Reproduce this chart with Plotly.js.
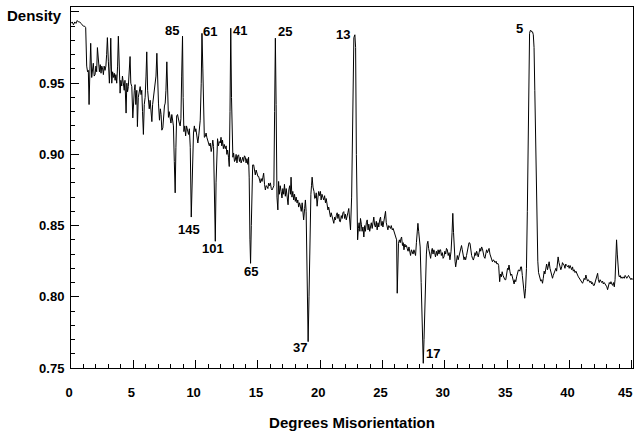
<!DOCTYPE html>
<html>
<head>
<meta charset="utf-8">
<script src="https://cdn.plot.ly/plotly-3.0.1.min.js"></script>
<style>html,body{margin:0;padding:0;background:#fff;}#chart{width:635px;height:436px;}</style>
</head>
<body>
<div id="chart"></div>
<script>
// Degrees misorientation (x) and density (y)
var xDeg = [0,0.1,0.2,0.3,0.4,0.5,0.6,0.7,0.8,0.9,1.0,1.1,1.18,
1.26,1.33,1.39,1.45,1.52,1.58,1.66,1.72,1.79,1.86,1.93,2.0,2.06,2.12,2.2,2.28,2.35,2.41,2.47,2.54,2.6,2.66,2.73,2.8,2.86,2.92,3.0,3.08,3.14,3.19,3.27,3.34,3.4,3.47,3.54,3.6,3.67,3.74,3.8,3.87,3.94,4.0,4.07,4.13,4.2,4.27,4.33,4.42,4.48,4.54,4.6,4.67,4.74,4.8,4.88,4.96,5.02,5.08,5.14,5.2,5.28,5.33,5.4,5.47,5.55,5.62,5.68,5.74,5.81,5.88,5.95,6.02,6.08,6.15,6.22,6.28,6.35,6.42,6.49,6.55,6.62,6.7,6.76,6.82,6.89,6.95,7.02,7.1,7.17,7.23,7.29,7.37,7.43,7.5,7.56,7.62,7.69,7.75,7.82,7.88,7.95,8.02,8.09,8.16,8.22,8.29,8.36,8.42,8.48,8.55,8.62,8.69,8.76,8.82,8.88,8.95,9.0,9.06,9.13,9.2,9.27,9.34,9.43,9.5,9.57,9.65,9.72,9.78,9.83,9.9,9.96,10.02,10.1,10.18,10.25,10.32,10.37,10.45,10.51,10.58,10.64,10.7,10.77,10.84,10.9,10.96,11.04,11.1,11.17,11.25,11.31,11.38,11.44,11.51,11.58,11.64,11.7,11.76,11.83,11.9,11.98,12.04,12.1,12.16,12.23,12.3,12.38,12.45,12.51,12.57,12.64,12.7,12.76,12.82,12.88,12.94,12.99,13.05,13.12,13.18,13.25,13.32,13.38,13.45,13.52,13.59,13.65,13.72,13.79,13.85,13.92,13.99,14.05,14.12,14.19,14.25,14.3,14.36,14.41,14.47,14.52,14.58,14.66,14.72,14.79,14.86,14.93,15.0,15.06,15.13,15.19,15.26,15.33,15.4,15.46,15.53,15.6,15.66,15.73,15.8,15.86,15.93,16.0,16.07,16.13,16.2,16.28,16.34,16.4,16.46,16.53,16.6,16.66,16.72,16.79,16.86,16.93,17.0,17.07,17.13,17.2,17.27,17.34,17.42,17.48,17.55,17.61,17.66,17.73,17.8,17.87,17.94,18.0,18.07,18.14,18.2,18.27,18.34,18.41,18.48,18.55,18.6,18.67,18.75,18.81,18.87,18.93,18.98,19.03,19.1,19.17,19.25,19.3,19.35,19.42,19.5,19.56,19.61,19.68,19.75,19.82,19.88,19.95,20.02,20.07,20.14,20.21,20.28,20.35,20.42,20.48,20.55,20.62,20.68,20.75,20.82,20.88,20.95,21.02,21.09,21.16,21.22,21.29,21.36,21.42,21.49,21.55,21.62,21.69,21.76,21.82,21.89,21.96,22.02,22.09,22.16,22.22,22.29,22.36,22.43,22.52,22.62,22.7,22.78,22.84,22.9,22.96,23.0,23.06,23.12,23.18,23.23,23.3,23.36,23.43,23.5,23.57,23.63,23.7,23.77,23.84,23.9,23.97,24.04,24.1,24.17,24.23,24.3,24.37,24.43,24.5,24.57,24.64,24.7,24.77,24.84,24.9,24.97,25.03,25.1,25.17,25.24,25.3,25.37,25.43,25.5,25.57,25.64,25.7,25.78,25.85,25.92,25.99,26.06,26.13,26.18,26.23,26.28,26.35,26.42,26.48,26.53,26.6,26.66,26.72,26.79,26.86,26.92,26.98,27.05,27.12,27.18,27.25,27.32,27.38,27.45,27.52,27.58,27.65,27.72,27.78,27.84,27.9,27.96,28.02,28.1,28.17,28.22,28.27,28.33,28.4,28.46,28.52,28.58,28.64,28.7,28.76,28.82,28.86,28.93,28.99,29.05,29.12,29.18,29.25,29.32,29.4,29.46,29.53,29.6,29.66,29.72,29.8,29.86,29.93,30.0,30.07,30.13,30.2,30.27,30.34,30.41,30.5,30.58,30.64,30.7,30.76,30.82,30.87,30.94,31.0,31.07,31.13,31.2,31.27,31.34,31.4,31.47,31.54,31.6,31.67,31.74,31.8,31.87,31.94,32.02,32.08,32.15,32.22,32.29,32.36,32.42,32.49,32.55,32.61,32.68,32.75,32.82,32.88,32.95,33.01,33.08,33.15,33.22,33.29,33.35,33.42,33.49,33.55,33.62,33.68,33.75,33.82,33.9,33.97,34.04,34.11,34.18,34.25,34.32,34.4,34.46,34.53,34.6,34.67,34.74,34.82,34.89,34.96,35.03,35.09,35.15,35.22,35.29,35.36,35.43,35.5,35.56,35.62,35.69,35.76,35.83,35.9,35.96,36.02,36.09,36.15,36.22,36.29,36.35,36.41,36.48,36.55,36.62,36.68,36.74,36.8,36.86,36.92,36.98,37.04,37.1,37.16,37.22,37.3,37.38,37.46,37.52,37.58,37.64,37.7,37.77,37.84,37.9,37.97,38.03,38.1,38.17,38.24,38.3,38.37,38.44,38.5,38.57,38.64,38.7,38.77,38.84,38.91,38.97,39.03,39.09,39.16,39.23,39.31,39.38,39.44,39.5,39.57,39.64,39.7,39.78,39.85,39.92,39.98,40.05,40.11,40.18,40.25,40.31,40.38,40.45,40.52,40.58,40.65,40.72,40.78,40.85,40.92,40.98,41.05,41.12,41.18,41.25,41.32,41.38,41.45,41.52,41.58,41.65,41.72,41.78,41.85,41.92,41.99,42.06,42.12,42.19,42.26,42.32,42.39,42.46,42.52,42.59,42.66,42.72,42.79,42.86,42.93,43.0,43.06,43.13,43.2,43.27,43.33,43.4,43.47,43.53,43.6,43.66,43.72,43.78,43.84,43.9,43.96,44.0,44.07,44.14,44.2,44.27,44.34,44.4,44.47,44.54,44.6,44.67,44.74,44.8,44.87,44.94,45.0,45.1];

var density = [0.992,0.993,0.991,0.993,0.992,0.994,0.993,0.993,0.992,0.991,0.990,0.990,0.989,
0.962,0.958,0.959,0.935,0.960,0.978,0.954,0.958,0.964,0.955,0.956,0.962,0.958,0.975,0.962,0.958,0.963,0.957,0.962,0.960,0.956,0.962,0.959,0.962,0.970,0.982,0.965,0.950,0.962,0.9816,0.950,0.958,0.954,0.957,0.952,0.956,0.950,0.962,0.983,0.960,0.943,0.952,0.948,0.955,0.950,0.945,0.952,0.929,0.950,0.944,0.9476,0.955,0.9687,0.950,0.9476,0.9256,0.940,0.945,0.949,0.935,0.945,0.9195,0.940,0.944,0.9476,0.942,0.945,0.930,0.914,0.935,0.940,0.955,0.972,0.945,0.940,0.932,0.938,0.930,0.923,0.935,0.9405,0.945,0.9476,0.955,0.971,0.945,0.936,0.924,0.932,0.928,0.917,0.9186,0.928,0.934,0.936,0.945,0.965,0.940,0.926,0.930,0.924,0.922,0.928,0.925,0.920,0.895,0.873,0.905,0.927,0.928,0.924,0.922,0.920,0.925,0.955,0.983,0.940,0.916,0.920,0.913,0.920,0.917,0.914,0.918,0.905,0.856,0.890,0.912,0.915,0.920,0.916,0.918,0.910,0.908,0.913,0.918,0.924,0.950,0.985,0.960,0.925,0.912,0.9125,0.915,0.912,0.910,0.909,0.906,0.908,0.902,0.905,0.910,0.9055,0.880,0.839,0.880,0.905,0.911,0.906,0.909,0.908,0.912,0.906,0.910,0.904,0.907,0.904,0.906,0.900,0.903,0.898,0.8915,0.930,0.9886,0.940,0.905,0.898,0.901,0.895,0.896,0.900,0.894,0.899,0.8997,0.895,0.898,0.894,0.896,0.898,0.895,0.899,0.898,0.894,0.897,0.893,0.898,0.8835,0.840,0.8235,0.850,0.880,0.8926,0.8926,0.889,0.8856,0.889,0.886,0.8845,0.8845,0.882,0.880,0.883,0.881,0.884,0.8868,0.879,0.875,0.878,0.8775,0.876,0.8798,0.878,0.880,0.876,0.875,0.8763,0.878,0.930,0.9816,0.935,0.870,0.861,0.881,0.872,0.878,0.874,0.8694,0.876,0.872,0.879,0.8706,0.876,0.868,0.8646,0.875,0.878,0.872,0.884,0.870,0.874,0.868,0.872,0.867,0.870,0.8659,0.868,0.863,0.866,0.8636,0.860,0.866,0.858,0.854,0.862,0.868,0.860,0.830,0.790,0.7685,0.800,0.840,0.872,0.878,0.884,0.877,0.874,0.869,0.8694,0.873,0.8636,0.870,0.874,0.871,0.874,0.868,0.872,0.870,0.868,0.871,0.866,0.869,0.864,0.861,0.863,0.858,0.856,0.859,0.856,0.853,0.8516,0.856,0.854,0.857,0.859,0.855,0.858,0.853,0.8527,0.857,0.855,0.859,0.8598,0.855,0.858,0.854,0.856,0.859,0.862,0.855,0.847,0.870,0.960,0.982,0.984,0.975,0.900,0.850,0.840,0.848,0.852,0.846,0.855,0.851,0.846,0.849,0.842,0.850,0.846,0.852,0.854,0.847,0.851,0.846,0.8496,0.852,0.848,0.853,0.856,0.850,0.849,0.853,0.847,0.852,0.849,0.854,0.856,0.850,0.853,0.849,0.854,0.857,0.860,0.852,0.849,0.847,0.850,0.849,0.848,0.850,0.847,0.848,0.846,0.845,0.843,0.840,0.8025,0.825,0.8376,0.840,0.838,0.841,0.842,0.836,0.838,0.833,0.837,0.835,0.836,0.834,0.832,0.835,0.831,0.829,0.833,0.832,0.830,0.833,0.830,0.829,0.838,0.846,0.8516,0.846,0.838,0.835,0.810,0.775,0.759,0.7533,0.770,0.800,0.819,0.830,0.837,0.839,0.834,0.830,0.828,0.827,0.832,0.834,0.830,0.833,0.831,0.828,0.832,0.829,0.833,0.830,0.833,0.833,0.829,0.831,0.827,0.828,0.832,0.830,0.834,0.833,0.829,0.831,0.826,0.832,0.845,0.8586,0.845,0.830,0.825,0.821,0.826,0.829,0.826,0.828,0.831,0.834,0.836,0.833,0.829,0.826,0.828,0.826,0.829,0.832,0.836,0.838,0.8376,0.833,0.829,0.827,0.8258,0.828,0.831,0.829,0.832,0.8305,0.828,0.831,0.834,0.832,0.835,0.834,0.830,0.828,0.827,0.830,0.833,0.831,0.834,0.834,0.830,0.828,0.827,0.8246,0.826,0.825,0.824,0.825,0.823,0.8235,0.822,0.8106,0.816,0.814,0.8176,0.815,0.813,0.812,0.812,0.817,0.820,0.819,0.8223,0.818,0.815,0.816,0.814,0.812,0.809,0.812,0.8106,0.814,0.817,0.8188,0.8188,0.818,0.821,0.821,0.815,0.808,0.802,0.799,0.806,0.820,0.860,0.920,0.965,0.985,0.987,0.987,0.986,0.986,0.984,0.975,0.945,0.900,0.850,0.825,0.817,0.814,0.814,0.811,0.812,0.8095,0.813,0.818,0.816,0.821,0.823,0.819,0.822,0.8246,0.820,0.818,0.815,0.813,0.815,0.817,0.819,0.820,0.818,0.822,0.828,0.824,0.821,0.819,0.821,0.824,0.823,0.8223,0.820,0.823,0.822,0.821,0.822,0.820,0.822,0.821,0.819,0.821,0.818,0.819,0.817,0.818,0.816,0.8153,0.814,0.813,0.812,0.811,0.810,0.8095,0.811,0.813,0.812,0.8153,0.813,0.811,0.812,0.8106,0.810,0.811,0.809,0.810,0.808,0.808,0.810,0.812,0.814,0.8165,0.812,0.810,0.812,0.8106,0.810,0.811,0.809,0.810,0.809,0.808,0.807,0.805,0.808,0.810,0.809,0.8106,0.809,0.808,0.810,0.807,0.812,0.825,0.840,0.830,0.818,0.815,0.814,0.815,0.813,0.814,0.813,0.814,0.813,0.815,0.814,0.813,0.814,0.815,0.814,0.813,0.812,0.813,0.812];

// Sigma labels of the marked peaks/dips and the misorientation where each occurs
var sigmaLabels = ['85','61','41','25','13','5','145','101','65','37','17'];
var sigmaAt =     [8.95,10.51,12.82,16.4,22.78,36.86,9.65,11.58,14.41,19.03,28.27];

var xTickVals = [0,5,10,15,20,25,30,35,40,45];
var xTickText = ['0','5','10','15','20','25','30','35','40','45'];
var yTickVals = [0.75,0.80,0.85,0.90,0.95,1.00];
var yTickText = ['0.75','0.80','0.85','0.90','0.95',''];

var FONT = 'Liberation Sans, Arial, sans-serif';
var lastX = xTickVals.length - 1;

// label offsets in pixels (style), same order as sigmaLabels
var offs = [[-11,6],[8,2],[9,-2],[10,7],[-12,0],[-11,2],[-2,-12],[-2,-7],[0,-8],[-8,-6],[10,10]];

var annotations = sigmaLabels.map(function(t,i){
  var idx = xDeg.indexOf(sigmaAt[i]);
  return {x: xDeg[idx], y: density[idx], xref:'x', yref:'y', text:t, showarrow:false,
    xanchor:'center', yanchor:'middle', xshift:offs[i][0], yshift:offs[i][1],
    font:{family:FONT,size:13,color:'#000',weight:'bold'}};
});
annotations.push({xref:'paper', yref:'paper', x:-0.0125, y:0.976, xanchor:'right', yanchor:'middle',
  text:'Density', showarrow:false, font:{family:FONT,size:15,color:'#000',weight:'bold'}});
// last x tick label sits against the right edge, drawn separately so it is not dropped
annotations.push({xref:'x', yref:'paper', x:xTickVals[lastX], y:0, xanchor:'center', yanchor:'middle',
  xshift:-7, yshift:-24, text:xTickText[lastX], showarrow:false,
  font:{family:FONT,size:13,color:'#000',weight:'bold'}});

var shownXText = xTickText.map(function(t,i){ return i === lastX ? '' : t; });

var trace = {x:xDeg, y:density, type:'scatter', mode:'lines',
  line:{color:'#000', width:1}, hoverinfo:'skip'};

var layout = {
  width:635, height:436,
  margin:{l:71, r:2, t:7, b:68},
  paper_bgcolor:'#fff', plot_bgcolor:'#fff',
  showlegend:false,
  xaxis:{range:[0,45.1], tickvals:xTickVals, ticktext:shownXText,
    ticks:'inside', ticklen:8, tickwidth:1, tickcolor:'#000',
    showline:true, linecolor:'#000', linewidth:1, mirror:true,
    showgrid:false, zeroline:false,
    minor:{dtick:1, tick0:0, ticks:'inside', ticklen:4, tickwidth:1, tickcolor:'#000', showgrid:false},
    tickfont:{family:FONT, size:13, color:'#000', weight:'bold'},
    ticklabelstandoff:12, ticklabelshift:-2,
    title:{text:'Degrees Misorientation', font:{family:FONT, size:15, color:'#000', weight:'bold'}, standoff:18}},
  yaxis:{range:[0.75,1.0035], tickvals:yTickVals, ticktext:yTickText,
    ticks:'inside', ticklen:8, tickwidth:1, tickcolor:'#000',
    showline:true, linecolor:'#000', linewidth:1, mirror:true,
    showgrid:false, zeroline:false,
    minor:{dtick:0.01, tick0:0.75, ticks:'inside', ticklen:4, tickwidth:1, tickcolor:'#000', showgrid:false},
    tickfont:{family:FONT, size:13, color:'#000', weight:'bold'},
    ticklabelstandoff:3},
  annotations:annotations
};

Plotly.newPlot('chart', [trace], layout, {staticPlot:true, displayModeBar:false});
</script>
</body>
</html>
